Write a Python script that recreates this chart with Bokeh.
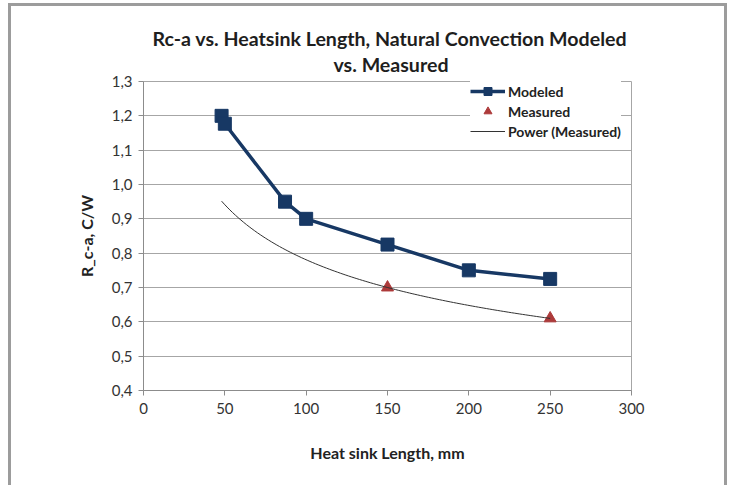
import numpy as np
from bokeh.plotting import figure
from bokeh.models import (Range1d, FixedTicker, CustomJSTickFormatter, Title,
                          Legend, LegendItem)
from bokeh.embed import file_html
from bokeh.resources import INLINE

# ---- data ----
modeled_x = [48, 50, 87, 100, 150, 200, 250]
modeled_y = [1.200, 1.177, 0.950, 0.900, 0.825, 0.750, 0.725]
measured_x = [150, 250]
measured_y = [0.700, 0.610]
trend_start = 48
trend_end = 250
x_ticks = [0, 50, 100, 150, 200, 250, 300]
y_ticks = [0.4, 0.5, 0.6, 0.7, 0.8, 0.9, 1.0, 1.1, 1.2, 1.3]
title_lines = ["Rc-a vs. Heatsink Length, Natural Convection Modeled", "vs. Measured"]

# power trendline fitted to the measured points (the "Power (Measured)" series)
b, log_a = np.polyfit(np.log(measured_x), np.log(measured_y), 1)
trend_x = np.linspace(trend_start, trend_end, 120)
trend_y = np.exp(log_a) * trend_x ** b

FONT = "Lato"
NAVY = "#173864"
RED = "#ad3a3a"
GRID = "#a6a6a6"

p = figure(width=719, height=482, output_backend="svg", toolbar_location=None,
           x_range=Range1d(0, 300), y_range=Range1d(0.4, 1.3),
           min_border_left=132, min_border_right=99, min_border_top=75,
           min_border_bottom=98)
p.styles = {"border-left": "3px solid #9c9c9c", "border-right": "3px solid #9c9c9c",
            "border-top": "3px solid #9c9c9c", "margin-left": "8px", "margin-top": "3px"}
p.background_fill_color = "white"
p.border_fill_color = "white"
p.outline_line_color = GRID
p.outline_line_width = 1

p.xgrid.grid_line_color = None
p.ygrid.grid_line_color = GRID
p.ygrid.grid_line_width = 1.2

p.xaxis.ticker = FixedTicker(ticks=x_ticks)
p.yaxis.ticker = FixedTicker(ticks=y_ticks)
p.yaxis.formatter = CustomJSTickFormatter(code="return tick.toFixed(1).replace('.', ',');")

for ax in (p.xaxis, p.yaxis):
    ax.axis_line_color = "#8c8c8c"
    ax.major_tick_line_color = "#8c8c8c"
    ax.major_tick_out = 5
    ax.major_tick_in = 0
    ax.minor_tick_line_color = None
    ax.major_label_text_font = FONT
    ax.major_label_text_font_size = "15px"
    ax.major_label_text_color = "#333333"
    ax.axis_label_text_font = FONT
    ax.axis_label_text_font_size = "16px"
    ax.axis_label_text_font_style = "bold"
    ax.axis_label_text_color = "#222222"

p.xaxis.axis_label = "Heat sink Length, mm"
p.xaxis.major_label_standoff = 7
p.xaxis.axis_label_standoff = 26
p.yaxis.axis_label = "R_c-a, C/W"
p.yaxis.major_label_standoff = 6
p.yaxis.axis_label_standoff = 13

# series
r_line = p.line(modeled_x, modeled_y, line_color=NAVY, line_width=3.5)
r_sq = p.scatter(modeled_x, modeled_y, marker="square", size=13,
                 fill_color=NAVY, line_color=NAVY)
r_tri = p.scatter(measured_x, measured_y, marker="triangle", size=12,
                  fill_color=RED, line_color=RED)
r_trend = p.line(trend_x, trend_y, line_color="#333333", line_width=1)

legend = Legend(items=[
    LegendItem(label="Modeled", renderers=[r_line, r_sq]),
    LegendItem(label="Measured", renderers=[r_tri]),
    LegendItem(label="Power (Measured)", renderers=[r_trend]),
], location=(327, 249))
legend.label_text_font = FONT
legend.label_text_font_size = "14px"
legend.label_text_font_style = "bold"
legend.label_text_color = "#222222"
legend.glyph_width = 35
legend.glyph_height = 20
legend.label_height = 20
legend.label_standoff = 3
legend.spacing = 0
legend.padding = 4
legend.margin = 0
legend.border_line_color = None
legend.background_fill_color = "white"
legend.background_fill_alpha = 1
p.add_layout(legend, "center")

# title: second line first (closest to plot), then the first line above it
p.title = None
p.add_layout(Title(text=title_lines[1], align="left", offset=190, standoff=11,
                   text_font=FONT, text_font_size="19.6px", text_font_style="bold",
                   text_color="#1e1e1e"), "above")
p.add_layout(Title(text=title_lines[0], align="left", offset=9, standoff=-8,
                   text_font=FONT, text_font_size="19.6px", text_font_style="bold",
                   text_color="#1e1e1e"), "above")

open("out.html", "w").write(file_html(p, INLINE))
